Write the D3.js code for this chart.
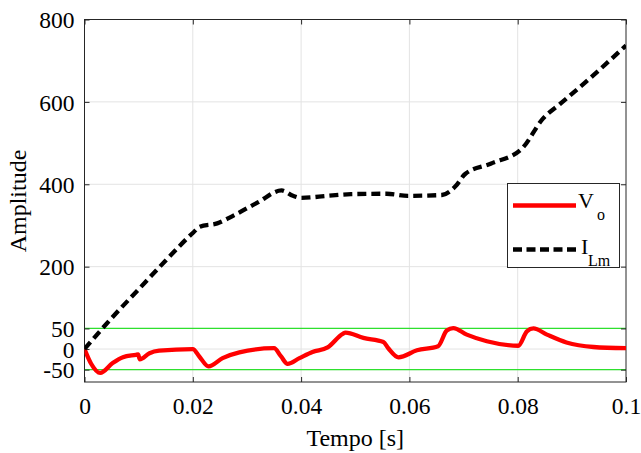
<!DOCTYPE html>
<html>
<head>
<meta charset="utf-8">
<script src="https://cdn.jsdelivr.net/npm/d3@7/dist/d3.min.js"></script>
<style>
  body { margin: 0; background: #fff; }
  svg { display: block; }
  text { font-family: "Liberation Serif", "Times New Roman", serif; fill: #000; }
</style>
</head>
<body>
<div id="chart"></div>
<script>
// I_Lm (dashed black)
const tLm = [0, 0.005, 0.01, 0.015, 0.0201, 0.0213, 0.0245, 0.0275, 0.032, 0.0364, 0.0385, 0.04,
  0.045, 0.0492, 0.0558, 0.0597, 0.066, 0.0685, 0.0703, 0.075, 0.0808, 0.0847, 0.088, 0.094, 0.1];
const iLm = [0, 75, 145, 215, 283, 297, 305, 324, 356, 385, 372, 367,
  372, 376, 377, 372, 374, 395, 425, 450, 487, 560, 597, 665, 737];

// V_o (solid red)
const tVo = [0, 0.0012, 0.0029, 0.0052, 0.0071, 0.0095, 0.0099, 0.0102, 0.012, 0.0138, 0.02,
  0.0212, 0.0229, 0.0255, 0.0286, 0.035, 0.0363, 0.0375, 0.0397, 0.0421, 0.0449,
  0.0477, 0.0482, 0.0515, 0.0552, 0.0561, 0.058, 0.0614, 0.0653,
  0.0669, 0.0681, 0.0706, 0.0743, 0.0801, 0.0817, 0.0829, 0.0854, 0.089, 0.094, 0.1];
const vVo = [0, -35, -58, -34, -20, -14, -13, -25, -10, -4, 0,
  -18, -42, -22, -8, 2, -18, -36, -22, -7, 4,
  37, 40, 27, 17, 2, -20, -3, 7,
  45, 51, 35, 19, 8, 43, 50, 35, 16, 5, 2];

const xTicks = [0, 0.02, 0.04, 0.06, 0.08, 0.1];
const yTicks = [-50, 0, 50, 200, 400, 600, 800];
const limits = [50, -50];

const width = 641, height = 453;
const pLeft = 84.5, pRight = 626, pTop = 19.5, pBottom = 382;

const svg = d3.select("#chart").append("svg")
  .attr("width", width)
  .attr("height", height);

const x = d3.scaleLinear().domain([0, 0.1]).range([pLeft, pRight]);
const y = d3.scaleLinear().domain([-80, 800]).range([pBottom, pTop]);

// grid
svg.append("g")
  .selectAll("line")
  .data(xTicks.slice(1, -1))
  .join("line")
  .attr("x1", d => x(d)).attr("x2", d => x(d))
  .attr("y1", pTop).attr("y2", pBottom)
  .attr("stroke", "#e3e3e3").attr("stroke-width", 1);

svg.append("g")
  .selectAll("line")
  .data(yTicks.filter(d => d !== 800))
  .join("line")
  .attr("x1", pLeft).attr("x2", pRight)
  .attr("y1", d => y(d)).attr("y2", d => y(d))
  .attr("stroke", "#e3e3e3").attr("stroke-width", 1);

// limit lines
svg.append("g")
  .selectAll("line")
  .data(limits)
  .join("line")
  .attr("x1", pLeft).attr("x2", pRight)
  .attr("y1", d => y(d)).attr("y2", d => y(d))
  .attr("stroke", "#2ee02e").attr("stroke-width", 1.3);

// axes, ticks pointing inward
const fmtX = d => d === 0 ? "0" : String(d);
const fmtY = d => String(d); // plain hyphen like the original
const axisFont = g => g.selectAll("text").style("font-size", "23.5px").style("font-family", "Liberation Serif");

svg.append("g")
  .attr("transform", `translate(0,${pBottom})`)
  .call(d3.axisBottom(x).tickValues(xTicks).tickFormat(fmtX).tickSize(-5).tickPadding(15))
  .call(g => g.select(".domain").remove())
  .call(g => g.selectAll("line").attr("stroke", "#262626"))
  .call(axisFont);

svg.append("g")
  .attr("transform", `translate(${pLeft},0)`)
  .call(d3.axisLeft(y).tickValues(yTicks).tickFormat(fmtY).tickSize(-5).tickPadding(10))
  .call(g => g.select(".domain").remove())
  .call(g => g.selectAll("line").attr("stroke", "#262626"))
  .call(g => g.selectAll("text").attr("dy", "0.35em"))
  .call(axisFont);

svg.append("g")
  .attr("transform", `translate(0,${pTop})`)
  .call(d3.axisTop(x).tickValues(xTicks).tickFormat("").tickSize(-5))
  .call(g => g.select(".domain").remove())
  .call(g => g.selectAll("line").attr("stroke", "#262626"));

svg.append("g")
  .attr("transform", `translate(${pRight},0)`)
  .call(d3.axisRight(y).tickValues(yTicks).tickFormat("").tickSize(-5))
  .call(g => g.select(".domain").remove())
  .call(g => g.selectAll("line").attr("stroke", "#262626"));

// box
svg.append("rect")
  .attr("x", pLeft).attr("y", pTop)
  .attr("width", pRight - pLeft).attr("height", pBottom - pTop)
  .attr("fill", "none").attr("stroke", "#262626").attr("stroke-width", 1);

// lines
svg.append("clipPath").attr("id", "clip")
  .append("rect").attr("x", pLeft).attr("y", pTop)
  .attr("width", pRight - pLeft).attr("height", pBottom - pTop);

const line = d3.line().x(d => x(d[0])).y(d => y(d[1])).curve(d3.curveMonotoneX);

svg.append("path")
  .datum(d3.zip(tVo, vVo))
  .attr("clip-path", "url(#clip)")
  .attr("d", line)
  .attr("fill", "none")
  .attr("stroke", "#ff0000")
  .attr("stroke-width", 4.3)
  .attr("stroke-linejoin", "round");

svg.append("path")
  .datum(d3.zip(tLm, iLm))
  .attr("clip-path", "url(#clip)")
  .attr("d", line)
  .attr("fill", "none")
  .attr("stroke", "#000")
  .attr("stroke-width", 4.3)
  .attr("stroke-dasharray", "9,5");

// axis labels
svg.append("text")
  .attr("x", (pLeft + pRight) / 2).attr("y", 446)
  .attr("text-anchor", "middle")
  .style("font-size", "24px")
  .text("Tempo [s]");

svg.append("text")
  .attr("transform", "translate(26,201) rotate(-90)")
  .attr("text-anchor", "middle")
  .style("font-size", "24px")
  .text("Amplitude");

// legend
const lg = svg.append("g");
lg.append("rect")
  .attr("x", 507.5).attr("y", 183.5)
  .attr("width", 112).attr("height", 84)
  .attr("fill", "#fff").attr("stroke", "#262626").attr("stroke-width", 1);

lg.append("line")
  .attr("x1", 513).attr("x2", 576).attr("y1", 205.5).attr("y2", 205.5)
  .attr("stroke", "#ff0000").attr("stroke-width", 4.3);
lg.append("line")
  .attr("x1", 513).attr("x2", 576).attr("y1", 249.5).attr("y2", 249.5)
  .attr("stroke", "#000").attr("stroke-width", 4.3).attr("stroke-dasharray", "9,4.5");

const t1 = lg.append("text").attr("x", 578).attr("y", 208).style("font-size", "22px");
t1.append("tspan").text("V");
t1.append("tspan").attr("x", 597).attr("y", 220).style("font-size", "16px").text("o");

const t2 = lg.append("text").attr("x", 581).attr("y", 254).style("font-size", "22px");
t2.append("tspan").text("I");
t2.append("tspan").attr("x", 588).attr("y", 266).style("font-size", "16px").text("Lm");
</script>
</body>
</html>
